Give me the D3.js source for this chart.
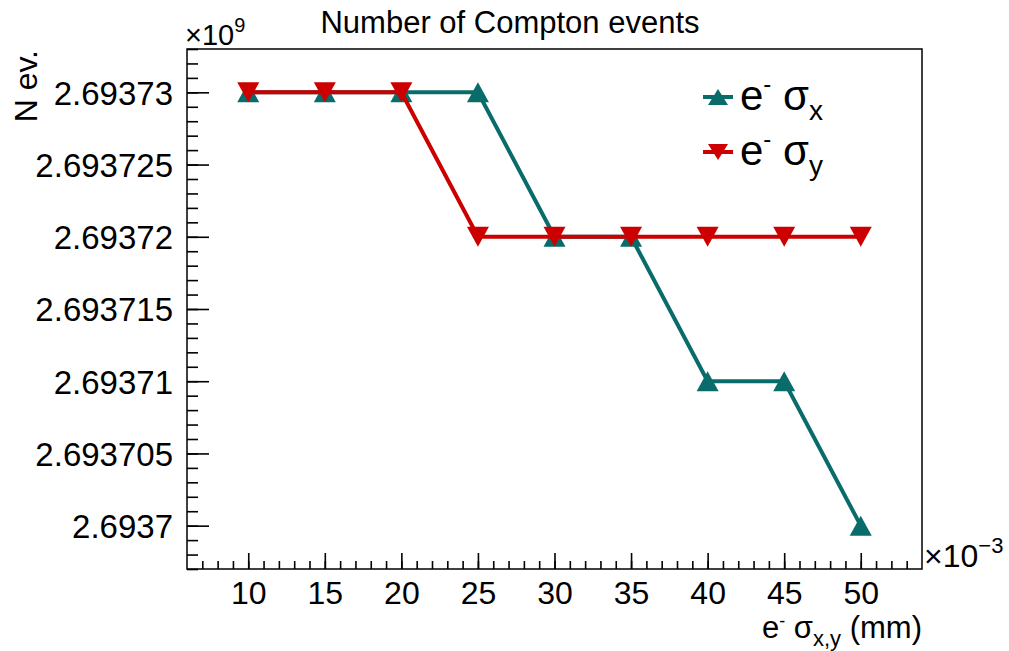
<!DOCTYPE html>
<html>
<head>
<meta charset="utf-8">
<script src="https://cdn.jsdelivr.net/npm/d3@7"></script>
<style>
  body { margin: 0; background: #fff; }
  text { font-family: "Liberation Sans", Arial, sans-serif; fill: #000; }
</style>
</head>
<body>
<div id="chart"></div>
<script>
// Beam size (mm) and number of Compton events for each scan
const sigma = [0.010, 0.015, 0.020, 0.025, 0.030, 0.035, 0.040, 0.045, 0.050];
const nSigmaX = [2693730000, 2693730000, 2693730000, 2693730000, 2693720000, 2693720000, 2693710000, 2693710000, 2693700000];
const nSigmaY = [2693730000, 2693730000, 2693730000, 2693720000, 2693720000, 2693720000, 2693720000, 2693720000, 2693720000];

const xMajor = [0.010, 0.015, 0.020, 0.025, 0.030, 0.035, 0.040, 0.045, 0.050];
const yMajor = [2693700000, 2693705000, 2693710000, 2693715000, 2693720000, 2693725000, 2693730000];

const W = 1009, H = 651;
const frame = { left: 187, right: 922, top: 49, bottom: 569 };

const teal = "#0a6b6b", red = "#cc0000";

const svg = d3.select("#chart")
    .append("svg")
    .attr("width", W)
    .attr("height", H);

// scales
const x = d3.scaleLinear().domain([0.006, 0.054]).range([frame.left, frame.right]);
const y = d3.scaleLinear().domain([2693697000, 2693733000]).range([frame.bottom, frame.top]);

// minor ticks every 1e-3 on x and every 1000 on y
const xMinor = d3.range(7, 54).map(d => d / 1000);
const yMinor = d3.range(2693697, 2693734).map(d => d * 1000);

// frame
svg.append("rect")
    .attr("x", frame.left).attr("y", frame.top)
    .attr("width", frame.right - frame.left)
    .attr("height", frame.bottom - frame.top)
    .attr("fill", "none").attr("stroke", "#000").attr("stroke-width", 1.5);

// x axis
const xAxisG = svg.append("g").attr("transform", `translate(0,${frame.bottom})`);
xAxisG.append("g")
    .call(d3.axisBottom(x).tickValues(xMinor).tickSize(-8).tickFormat(""))
    .call(g => g.select(".domain").remove());
xAxisG.append("g")
    .call(d3.axisBottom(x).tickValues(xMajor).tickSize(-16).tickPadding(0)
        .tickFormat(d => Math.round(d * 1000)))
    .call(g => g.select(".domain").remove());
xAxisG.selectAll("line").attr("stroke", "#000").attr("stroke-width", 1.6);
xAxisG.selectAll("text")
    .attr("y", 35).attr("dy", null)
    .style("font-size", "32px");

// y axis
const yAxisG = svg.append("g").attr("transform", `translate(${frame.left},0)`);
yAxisG.append("g")
    .call(d3.axisLeft(y).tickValues(yMinor).tickSize(-11).tickFormat(""))
    .call(g => g.select(".domain").remove());
yAxisG.append("g")
    .call(d3.axisLeft(y).tickValues(yMajor).tickSize(-22).tickPadding(0)
        .tickFormat(d => String(+(d / 1e9).toFixed(6))))
    .call(g => g.select(".domain").remove());
yAxisG.selectAll("line").attr("stroke", "#000").attr("stroke-width", 1.6);
yAxisG.selectAll("text")
    .attr("x", -14).attr("dy", "0.36em")
    .style("font-size", "33px");

// exponent labels
const exp9 = svg.append("text").attr("x", 185).attr("y", 45).style("font-size", "29px");
exp9.append("tspan").text("\u00d710");
exp9.append("tspan").attr("dy", -13).style("font-size", "20px").text("9");

const exp3 = svg.append("text").attr("x", 924).attr("y", 567).style("font-size", "32px");
exp3.append("tspan").text("\u00d710");
exp3.append("tspan").attr("dy", -14).style("font-size", "22px").text("\u22123");

// title
svg.append("text")
    .attr("x", 510).attr("y", 33)
    .attr("text-anchor", "middle")
    .style("font-size", "31px")
    .text("Number of Compton events");

// axis titles
const xt = svg.append("text")
    .attr("x", frame.right).attr("y", 638)
    .attr("text-anchor", "end")
    .style("font-size", "31px");
xt.append("tspan").text("e");
xt.append("tspan").attr("dy", -11).style("font-size", "18px").text("-");
xt.append("tspan").attr("dy", 11).text(" \u03c3");
xt.append("tspan").attr("dy", 8).style("font-size", "22px").text("x,y");
xt.append("tspan").attr("dy", -8).text(" (mm)");

svg.append("text")
    .attr("transform", `translate(37,50) rotate(-90)`)
    .attr("text-anchor", "end")
    .style("font-size", "32px")
    .text("N ev.");

// markers
const triUp = (w, h) => `M0,${-h / 2}L${w / 2},${h / 2}L${-w / 2},${h / 2}Z`;
const triDown = (w, h) => `M0,${h / 2}L${w / 2},${-h / 2}L${-w / 2},${-h / 2}Z`;

const line = d3.line().x(d => x(d[0])).y(d => y(d[1]));

function drawGraph(values, color, shape) {
    const pts = sigma.map((s, i) => [s, values[i]]);
    svg.append("path")
        .attr("d", line(pts))
        .attr("fill", "none")
        .attr("stroke", color)
        .attr("stroke-width", 4);
    svg.append("g").selectAll("path")
        .data(pts)
        .enter()
        .append("path")
        .attr("transform", d => `translate(${x(d[0])},${y(d[1])})`)
        .attr("d", shape(22, 20))
        .attr("fill", color);
}

drawGraph(nSigmaX, teal, triUp);
drawGraph(nSigmaY, red, triDown);

// legend
const legend = [
    { label: "x", color: teal, shape: triUp, y: 97 },
    { label: "y", color: red, shape: triDown, y: 152 }
];
const lg = svg.append("g").selectAll("g")
    .data(legend)
    .enter()
    .append("g")
    .attr("transform", d => `translate(0,${d.y})`);
lg.append("line")
    .attr("x1", 703).attr("x2", 733)
    .attr("stroke", d => d.color).attr("stroke-width", 4);
lg.append("path")
    .attr("transform", "translate(718,0)")
    .attr("d", d => d.shape(20, 16))
    .attr("fill", d => d.color);
const lt = lg.append("text")
    .attr("x", 740).attr("y", 13)
    .style("font-size", "42px");
lt.append("tspan").text("e");
lt.append("tspan").attr("dy", -18).style("font-size", "24px").text("-");
lt.append("tspan").attr("dy", 18).text(" \u03c3");
lt.append("tspan").attr("dy", 10).style("font-size", "28px").text(d => d.label);
</script>
</body>
</html>
